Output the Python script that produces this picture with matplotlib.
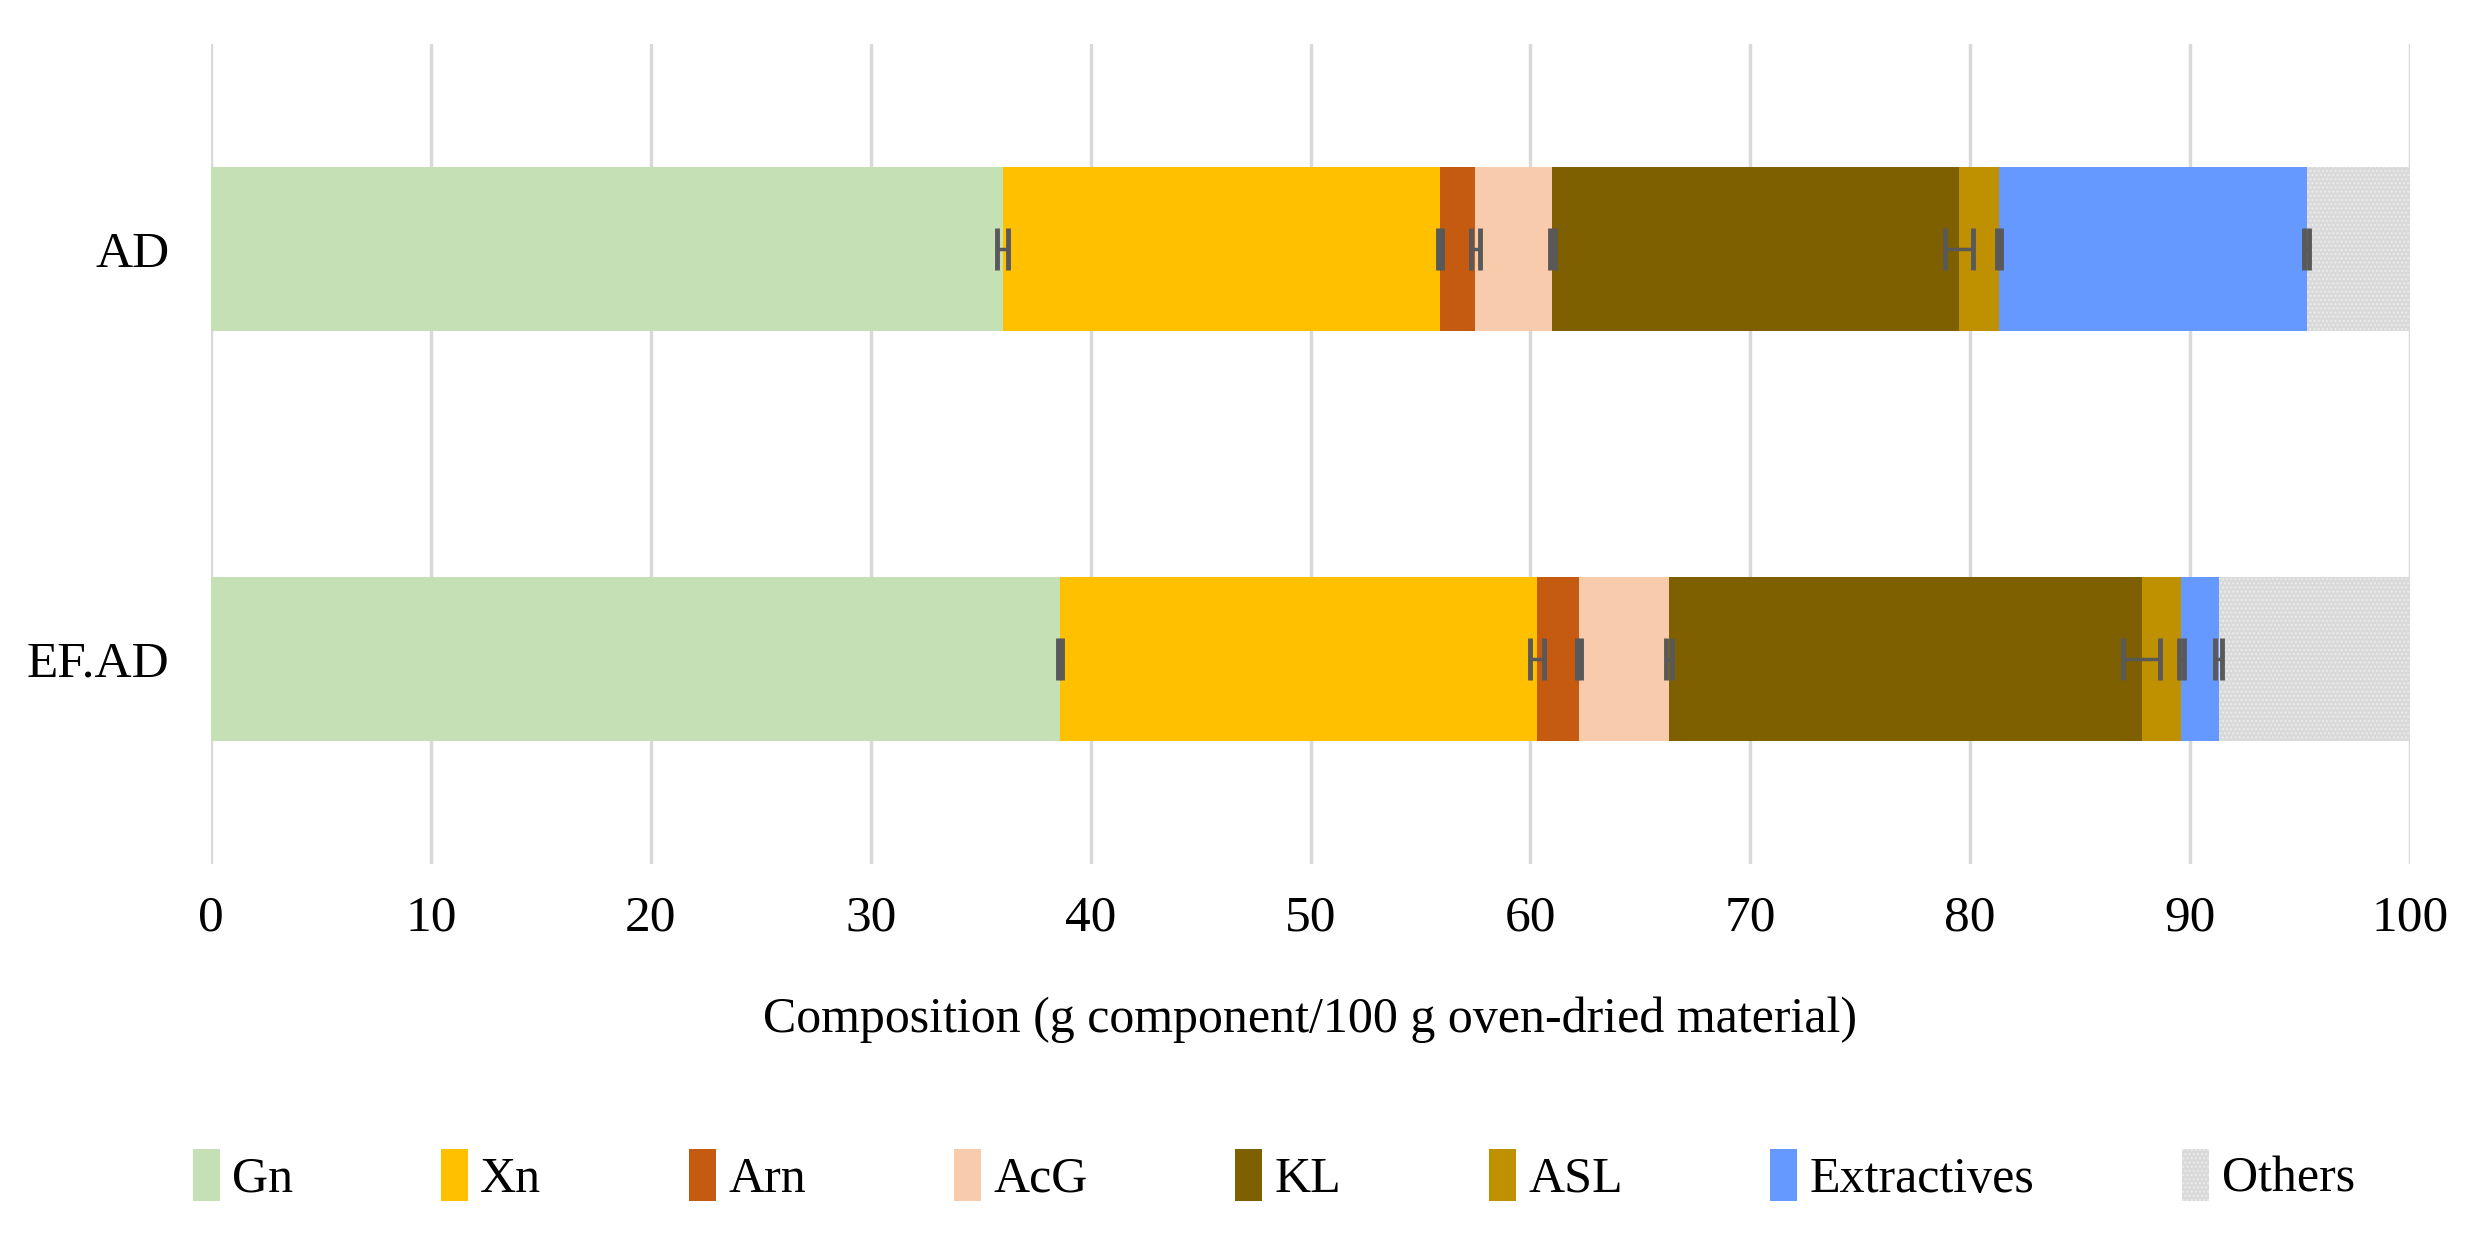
import matplotlib.pyplot as plt
import numpy as np

plt.rcParams['font.family'] = ['Liberation Serif', 'DejaVu Serif']
plt.rcParams['hatch.linewidth'] = 1.0

# samples and components
samples = ['AD', 'EF.AD']
components = ['Gn', 'Xn', 'Arn', 'AcG', 'KL', 'ASL', 'Extractives', 'Others']
colors = ['#C5E0B4', '#FFC000', '#C55A11', '#F8CBAD', '#7F6000', '#BF9000', '#6699FF', '#D9D9D9']

# values per component, one entry per sample (AD, EF.AD)
gn = [36.0, 38.6]
xn = [19.9, 21.7]
arn = [1.6, 1.9]
acg = [3.5, 4.1]
kl = [18.5, 21.5]
asl = [1.8, 1.8]
extractives = [14.0, 1.7]
others = [4.7, 8.7]

# standard deviations (no error bar on Others)
gn_err = [0.25, 0.1]
xn_err = [0.1, 0.3]
arn_err = [0.2, 0.1]
acg_err = [0.1, 0.15]
kl_err = [0.65, 0.85]
asl_err = [0.1, 0.1]
extractives_err = [0.1, 0.15]

values = [gn, xn, arn, acg, kl, asl, extractives, others]
errors = [gn_err, xn_err, arn_err, acg_err, kl_err, asl_err, extractives_err, None]

fs = 36

fig = plt.figure(figsize=(24.73, 12.42), dpi=100)
ax = fig.add_axes([211 / 2473, 1 - 864 / 1242, 2199 / 2473, 820 / 1242])

y = np.arange(len(samples))
left = np.zeros(len(samples))
for name, vals, err, col in zip(components, values, errors, colors):
    vals = np.array(vals)
    if name == 'Others':
        ax.barh(y, vals, left=left, height=0.4, color=col, edgecolor='#EBEBEB',
                hatch='....', linewidth=0, label=name, zorder=2)
    else:
        ax.barh(y, vals, left=left, height=0.4, color=col, label=name, zorder=2)
    left = left + vals
    if err is not None:
        ax.errorbar(left, y, xerr=err, fmt='none', ecolor='#595959',
                    elinewidth=2.5, capsize=15, capthick=3.5, zorder=3)

ax.set_xlim(0, 100)
ax.set_ylim(1.5, -0.5)
ax.set_xticks(np.arange(0, 101, 10))
ax.set_yticks(y)
ax.set_yticklabels(samples)
ax.tick_params(axis='both', length=0, labelsize=fs + 1)
ax.tick_params(axis='y', pad=30)
ax.tick_params(axis='x', pad=22)
ax.grid(axis='x', color='#D9D9D9', linewidth=2.5, zorder=0)
ax.set_axisbelow(True)
for s in ax.spines.values():
    s.set_visible(False)

ax.set_xlabel('Composition (g component/100 g oven-dried material)', fontsize=fs, labelpad=40)

handles, labels = ax.get_legend_handles_labels()
fig.legend(handles, labels, loc='center', ncol=8, fontsize=fs, frameon=False,
           bbox_to_anchor=(0.515, 1 - 1176 / 1242),
           handlelength=0.54, handleheight=1.2, handletextpad=0.25,
           columnspacing=2.95, borderpad=0, borderaxespad=0)

fig.savefig('out.png', dpi=100)
